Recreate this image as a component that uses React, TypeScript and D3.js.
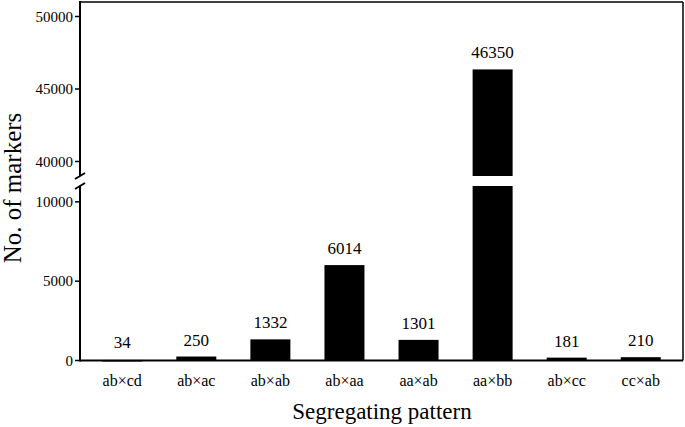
import React from "react";
import * as d3 from "d3";

const categories = ["ab×cd", "ab×ac", "ab×ab", "ab×aa", "aa×ab", "aa×bb", "ab×cc", "cc×ab"];
const values = [34, 250, 1332, 6014, 1301, 46350, 181, 210];
const lowerTicks = [0, 5000, 10000];
const upperTicks = [40000, 45000, 50000];
const lowerDomain = [0, 11000];
const upperDomain = [39000, 51000];

const W = 685, H = 427;
const left = 80, right = 683, bottom = 360.5, top = 2;
const lowTop = 186, upBottom = 176;
const serif = "Liberation Serif, Times New Roman, DejaVu Serif, serif";

export default function App() {
  const x = d3.scaleBand<string>().domain(categories).range([left, right]).paddingInner(0.46).paddingOuter(0.3);
  const yLow = d3.scaleLinear().domain(lowerDomain).range([bottom, lowTop]);
  const yUp = d3.scaleLinear().domain(upperDomain).range([upBottom, top]);
  const yTop = (v: number) => (v > lowerDomain[1] ? yUp(v) : yLow(v));

  return (
    <svg width={W} height={H} style={{ position: "absolute", left: 0, top: 0, background: "#fff", fontFamily: serif }}>
      <g style={{ fontFamily: serif }}>
        <line x1={left} x2={right} y1={top} y2={top} stroke="#000" strokeWidth={1.5} />
        <line x1={right} x2={right} y1={top} y2={bottom} stroke="#000" strokeWidth={1.5} />
        <line x1={left} x2={right} y1={bottom} y2={bottom} stroke="#000" strokeWidth={2} />
        <line x1={left} x2={left} y1={top - 1} y2={upBottom} stroke="#000" strokeWidth={2} />
        <line x1={left} x2={left} y1={lowTop} y2={bottom + 1} stroke="#000" strokeWidth={2} />
        <line x1={left - 5} x2={left + 5} y1={upBottom + 3} y2={upBottom - 3} stroke="#000" strokeWidth={2} />
        <line x1={left - 5} x2={left + 5} y1={lowTop + 3} y2={lowTop - 3} stroke="#000" strokeWidth={2} />
        {lowerTicks.map((t) => (
          <g key={"l" + t}>
            <line x1={left - 5} x2={left} y1={yLow(t)} y2={yLow(t)} stroke="#000" strokeWidth={1.5} />
            <text x={left - 7} y={yLow(t)} dy="0.35em" textAnchor="end" fontSize={15}>{t}</text>
          </g>
        ))}
        {upperTicks.map((t) => (
          <g key={"u" + t}>
            <line x1={left - 5} x2={left} y1={yUp(t)} y2={yUp(t)} stroke="#000" strokeWidth={1.5} />
            <text x={left - 7} y={yUp(t)} dy="0.35em" textAnchor="end" fontSize={15}>{t}</text>
          </g>
        ))}
        {categories.map((c, i) => {
          const v = values[i];
          const bx = x(c)!;
          const bw = x.bandwidth();
          if (v > lowerDomain[1]) {
            return (
              <g key={c}>
                <rect x={bx} width={bw} y={yLow(lowerDomain[1])} height={bottom - yLow(lowerDomain[1])} fill="#000" />
                <rect x={bx} width={bw} y={yUp(v)} height={yUp(upperDomain[0]) - yUp(v)} fill="#000" />
              </g>
            );
          }
          return <rect key={c} x={bx} width={bw} y={yLow(v)} height={Math.max(bottom - yLow(v), 1.5)} fill="#000" />;
        })}
        {categories.map((c, i) => (
          <text key={"v" + c} x={x(c)! + x.bandwidth() / 2} y={Math.min(yTop(values[i]), bottom - 1.5) - 11} textAnchor="middle" fontSize={17}>
            {values[i]}
          </text>
        ))}
        {categories.map((c) => (
          <text key={"x" + c} x={x(c)! + x.bandwidth() / 2} y={386} textAnchor="middle" fontSize={16}>{c}</text>
        ))}
        <text x={382} y={419} textAnchor="middle" fontSize={23}>Segregating pattern</text>
        <text transform={`translate(21, 188) rotate(-90)`} textAnchor="middle" fontSize={25}>No. of markers</text>
      </g>
    </svg>
  );
}
